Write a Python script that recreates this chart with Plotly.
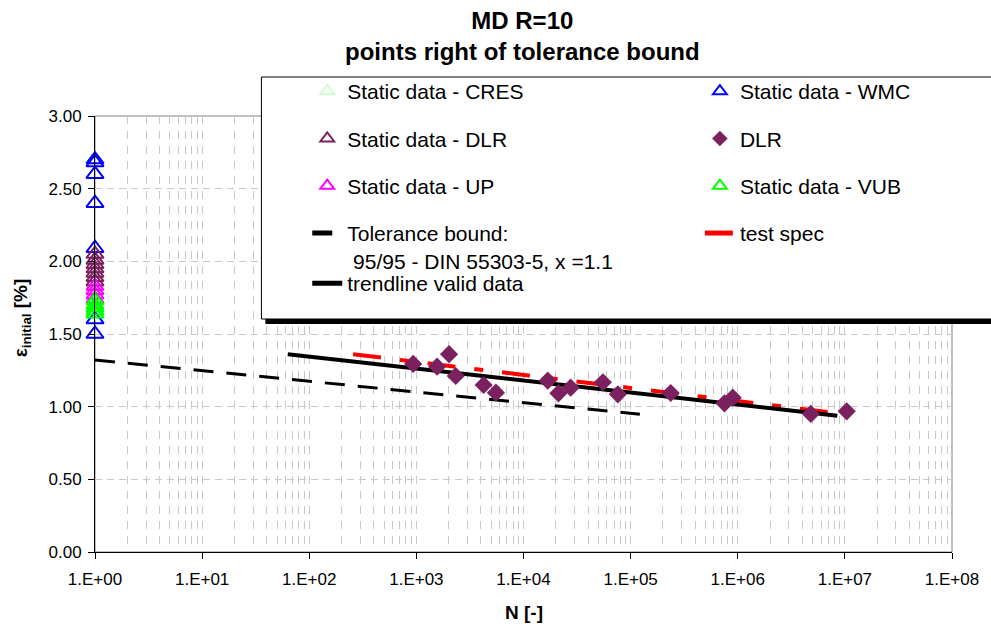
import plotly.graph_objects as go

# ---------------- data ----------------
x_tickvals = [1, 1e1, 1e2, 1e3, 1e4, 1e5, 1e6, 1e7, 1e8]
x_ticktext = ["1.E+00", "1.E+01", "1.E+02", "1.E+03", "1.E+04",
              "1.E+05", "1.E+06", "1.E+07", "1.E+08"]

# static data (all at N = 1)
cres_eps = [1.67, 1.63]
wmc_eps = [2.70, 2.68, 2.60, 2.40, 2.09, 1.60, 1.50]
dlr_static_eps = [2.05, 2.01, 1.98, 1.95, 1.92, 1.89, 1.86]
up_eps = [1.83, 1.80, 1.77, 1.74]
vub_eps = [1.73, 1.70, 1.68, 1.66, 1.64]

# DLR fatigue data
dlr_N = [934, 1561, 2019, 2330, 4246, 5525, 16830, 21180, 27540,
         55090, 76000, 236600, 751800, 898000, 4.81e6, 1.04e7]
dlr_eps = [1.294, 1.275, 1.361, 1.211, 1.149, 1.096, 1.179, 1.092, 1.131,
           1.168, 1.085, 1.094, 1.023, 1.062, 0.950, 0.968]

# lines
tol_N = [1, 1.22e5]
tol_eps = [1.321, 0.948]
trend_N = [63, 8.5e6]
trend_eps = [1.361, 0.938]
spec_N = [257, 8.5e6]
spec_eps = [1.361, 0.955]

# ---------------- layout helpers ----------------
W, H = 991, 629
L, R, T, B = 95, 955, 116, 552
PW, PH = R - L, B - T


def px(xp):
    return (xp - L) / PW


def py(yp):
    return (B - yp) / PH


fig = go.Figure()

# line traces first (drawn beneath markers)
fig.add_trace(go.Scatter(
    x=spec_N, y=spec_eps, mode="lines", name="test spec",
    line=dict(color="#FF0000", width=4, dash="28px,19px,9px,19px"),
    legend="legend2", legendgroup="g8", legendrank=4))
fig.add_trace(go.Scatter(
    x=tol_N, y=tol_eps, mode="lines",
    name="Tolerance bound:<br> 95/95 - DIN 55303-5, x =1.1",
    line=dict(color="black", width=3, dash="20px,13px"),
    legend="legend", legendgroup="g7", legendrank=4))
fig.add_trace(go.Scatter(
    x=trend_N, y=trend_eps, mode="lines", name="trendline valid data",
    line=dict(color="black", width=4),
    legend="legend3", legendgroup="g9", legendrank=1))


def tri(eps, name, color, legend, group, rank):
    fig.add_trace(go.Scatter(
        x=[1] * len(eps), y=eps, mode="markers", name=name,
        marker=dict(symbol="triangle-up-open", size=15, color=color,
                    line=dict(color=color, width=2)),
        cliponaxis=False,
        legend=legend, legendgroup=group, legendrank=rank))


tri(cres_eps, "Static data - CRES", "#CCFFCC", "legend", "g1", 1)
tri(wmc_eps, "Static data - WMC", "#0000FF", "legend2", "g2", 1)
tri(dlr_static_eps, "Static data - DLR", "#7B2160", "legend", "g3", 2)
tri(up_eps, "Static data - UP", "#FF00FF", "legend", "g5", 3)
tri(vub_eps, "Static data - VUB", "#00FF00", "legend2", "g6", 3)

fig.add_trace(go.Scatter(
    x=dlr_N, y=dlr_eps, mode="markers", name="DLR",
    marker=dict(symbol="diamond", size=14, color="#7B2160"),
    legend="legend2", legendgroup="g4", legendrank=2))

grid_col = "#C8C8C8"
fig.update_xaxes(
    type="log", range=[0, 8], tickvals=x_tickvals, ticktext=x_ticktext,
    showline=True, linecolor="black", linewidth=1,
    ticks="outside", ticklen=6, tickcolor="black",
    showgrid=True, gridcolor=grid_col, griddash="8px,7px", gridwidth=1,
    minor=dict(showgrid=True, dtick="D1", gridcolor=grid_col,
               griddash="8px,7px", ticks=""),
    tickfont=dict(family="Arial", size=17, color="black"),
    ticklabelstandoff=6, zeroline=False)
fig.update_yaxes(
    range=[0, 3], dtick=0.5, tickformat=".2f",
    showline=True, linecolor="black", linewidth=1,
    ticks="outside", ticklen=6, tickcolor="black",
    showgrid=True, gridcolor=grid_col, griddash="7px,5px",
    tickfont=dict(family="Arial", size=17, color="black"),
    ticklabelstandoff=3, zeroline=False)

shapes = [
    # plot-area border (grey)
    dict(type="rect", xref="paper", yref="paper", x0=0, x1=1, y0=0, y1=1,
         line=dict(color="#808080", width=1), layer="below"),
    # legend shadow
    dict(type="rect", xref="paper", yref="paper",
         x0=px(266), x1=px(1010), y0=py(324), y1=py(81),
         fillcolor="black", line=dict(width=0), layer="above"),
    # legend box
    dict(type="rect", xref="paper", yref="paper",
         x0=px(262), x1=px(1005), y0=py(319), y1=py(77),
         fillcolor="white", line=dict(color="black", width=1), layer="above"),
]

legend_font = dict(family="Arial", size=21, color="black")
common = dict(orientation="v", bgcolor="rgba(0,0,0,0)", borderwidth=0,
              font=legend_font, valign="top", traceorder="grouped",
              tracegroupgap=17, itemsizing="constant",
              xanchor="left", yanchor="top")

fig.update_layout(
    width=W, height=H,
    margin=dict(l=L, r=W - R, t=T, b=H - B),
    paper_bgcolor="white", plot_bgcolor="white",
    font=dict(family="Arial", color="black"),
    shapes=shapes,
    legend=dict(x=px(308), y=py(71), **common),
    legend2=dict(x=px(702), y=py(71), **common),
    legend3=dict(x=px(308), y=py(263), **common),
    annotations=[
        dict(text="<b>MD R=10<br>points right of tolerance bound</b>",
             x=px(524), y=py(36), xref="paper", yref="paper",
             showarrow=False, xanchor="center", yanchor="middle",
             font=dict(family="Arial", size=24, color="black")),
        dict(text="<b>ε<sub>initial</sub> [%]</b>", textangle=-90,
             x=px(22), y=py(318), xref="paper", yref="paper",
             showarrow=False, xanchor="center", yanchor="middle",
             font=dict(family="Arial", size=19, color="black")),
        dict(text="<b>N [-]</b>", x=px(525), y=py(612),
             xref="paper", yref="paper", showarrow=False,
             xanchor="center", yanchor="middle",
             font=dict(family="Arial", size=19, color="black")),
    ],
)

fig.write_html("out.html")
